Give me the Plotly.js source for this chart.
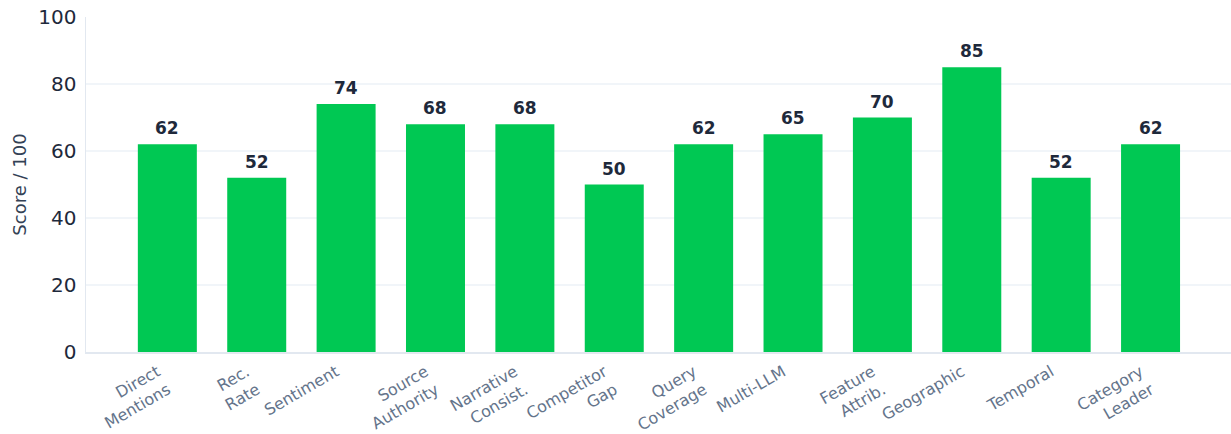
<!DOCTYPE html>
<html>
<head>
<meta charset="utf-8">
<script src="https://cdn.plot.ly/plotly-3.0.1.min.js"></script>
<style>
html,body{margin:0;padding:0;background:#fff;}
#chart{width:1231px;height:434px;}
</style>
</head>
<body>
<div id="chart"></div>
<script>
const categories = ["Direct<br>Mentions","Rec.<br>Rate","Sentiment","Source<br>Authority","Narrative<br>Consist.","Competitor<br>Gap","Query<br>Coverage","Multi-LLM","Feature<br>Attrib.","Geographic","Temporal","Category<br>Leader"];
const scores = [62, 52, 74, 68, 68, 50, 62, 65, 70, 85, 52, 62];
const yTicks = [0, 20, 40, 60, 80, 100];

const trace = {
  type: 'bar',
  x: categories,
  y: scores,
  marker: {color: '#00C853'},
  width: 0.66,
  hoverinfo: 'skip'
};

const valueLabels = categories.map((c, i) => ({
  x: c,
  y: scores[i],
  xref: 'x',
  yref: 'y',
  text: '<b>' + scores[i] + '</b>',
  showarrow: false,
  yanchor: 'bottom',
  yshift: 4,
  font: {family: 'DejaVu Sans', size: 17, color: '#1e293b'}
}));

const layout = {
  width: 1231,
  height: 434,
  margin: {l: 86, r: 0, t: 17, b: 82},
  paper_bgcolor: '#ffffff',
  plot_bgcolor: '#ffffff',
  font: {family: 'DejaVu Sans', color: '#1e293b'},
  showlegend: false,
  annotations: valueLabels,
  xaxis: {
    type: 'category',
    range: [-0.91, 11.9],
    tickangle: -30,
    tickfont: {family: 'DejaVu Sans', size: 16, color: '#64748b'},
    ticklabelshift: -10,
    ticklabelstandoff: 3,
    showline: true,
    linecolor: '#e2e8f0',
    linewidth: 1.5,
    showgrid: false,
    ticks: '',
    automargin: false
  },
  yaxis: {
    range: [0, 100],
    tickvals: yTicks,
    ticktext: yTicks.map(String),
    tickfont: {family: 'DejaVu Sans', size: 20, color: '#1e293b'},
    title: {text: 'Score / 100', font: {family: 'DejaVu Sans', size: 18, color: '#334155'}, standoff: 7},
    showline: true,
    linecolor: '#e2e8f0',
    linewidth: 1.5,
    gridcolor: '#f1f5f9',
    gridwidth: 1.5,
    zeroline: false,
    ticks: '',
    ticklabelstandoff: 4,
    automargin: false
  }
};

Plotly.newPlot('chart', [trace], layout, {displayModeBar: false, staticPlot: true});
</script>
</body>
</html>
